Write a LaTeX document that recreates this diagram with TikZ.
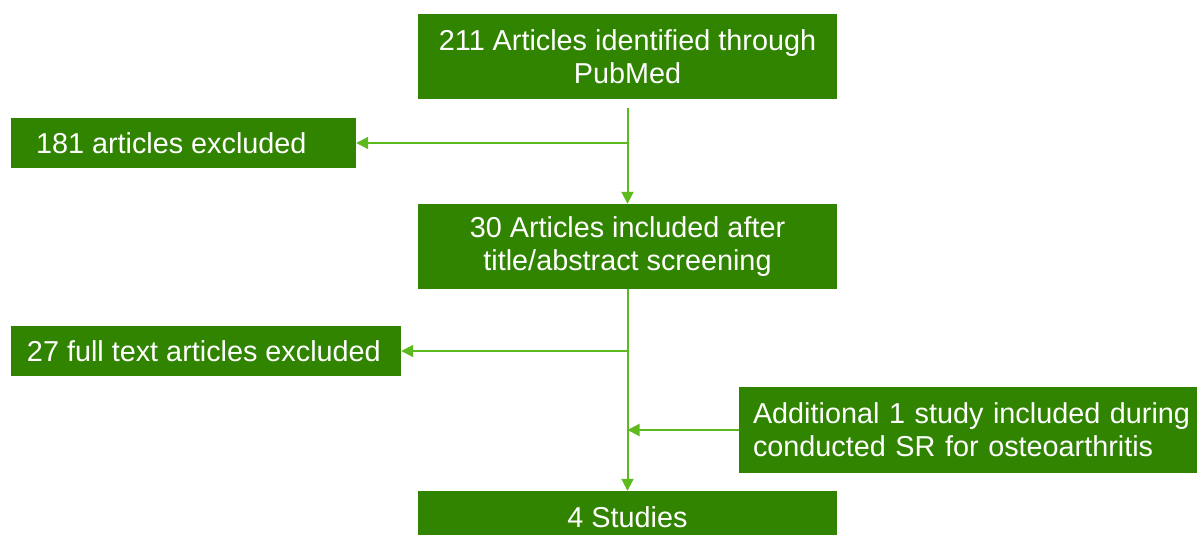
\documentclass[tikz,border=0pt]{standalone}
\usepackage{fontspec}
\setmainfont{Liberation Sans}
\usetikzlibrary{arrows.meta}
\definecolor{boxg}{RGB}{49,132,0}
\definecolor{lineg}{RGB}{92,186,30}
\tikzset{
  box/.style={fill=boxg, text=white, inner sep=0pt, font=\fontsize{28.8}{33}\selectfont},
  arr/.style={draw=lineg, line width=2pt, -{Triangle[length=12pt,width=12pt]}}
}
\begin{document}
\begin{tikzpicture}[x=1pt,y=-1pt]
\useasboundingbox (0,0) rectangle (1197,535);
\clip (0,0) rectangle (1197,535);
\node[box, minimum width=419pt, minimum height=85pt, align=center] (top) at (627.5,56.5) {211 Articles identified through\\PubMed};
\node[box, minimum width=345pt, minimum height=50pt] (ex1) at (183.5,143) {\makebox[295pt][l]{181 articles excluded}};
\node[box, minimum width=419pt, minimum height=85pt, align=center] (mid) at (627.5,246.5) {30 Articles included after\\title/abstract screening};
\node[box, minimum width=390pt, minimum height=50pt] (ex2) at (206,351) {\makebox[358pt][l]{27 full text articles excluded}};
\node[box, minimum width=471pt, minimum height=86pt, text width=443pt, align=left] (add) at (974.5,430) {Additional 1 study included during\\conducted SR for osteoarthritis};
\node[box, minimum width=419pt, minimum height=52pt, align=center] (bot) at (627.5,517) {4 Studies};
\draw[arr] ([yshift=-9pt]top.south) -- (mid.north);
\draw[arr] (top.south |- ex1.east) -- (ex1.east);
\draw[arr] (mid.south) -- (bot.north);
\draw[arr] (mid.south |- ex2.east) -- (ex2.east);
\draw[arr] (add.west) -- (mid.south |- add.west);
\end{tikzpicture}
\end{document}
